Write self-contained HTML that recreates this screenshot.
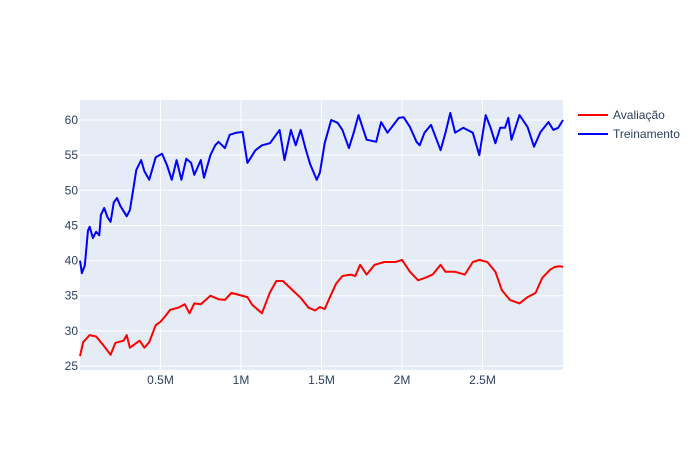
<!DOCTYPE html>
<html><head><meta charset="utf-8"><style>
body{margin:0;background:#fff}
svg text{font-family:"Liberation Sans",sans-serif;font-size:12px;fill:#2a3f5f}
</style></head><body>
<svg id="chart" width="700" height="450">
<rect x="80" y="100" width="483" height="270" fill="#e5ecf6"/>
<g id="grid"></g><g id="series"></g><g id="axes"></g>
<g>
<line x1="578" y1="115" x2="608" y2="115" stroke="#ff0000" stroke-width="2"/>
<text x="613" y="119">Avaliação</text>
<line x1="578" y1="134" x2="608" y2="134" stroke="#0000ff" stroke-width="2"/>
<text x="613" y="138">Treinamento</text>
</g>
</svg>
<script>
const xTicks=[0.5,1,1.5,2,2.5];
const xTickLabels=["0.5M","1M","1.5M","2M","2.5M"];
const yTicks=[25,30,35,40,45,50,55,60];
const blueX=[0,0.012,0.03,0.05,0.06,0.08,0.1,0.12,0.13,0.15,0.17,0.19,0.21,0.23,0.25,0.29,0.31,0.33,0.35,0.38,0.4,0.43,0.47,0.51,0.54,0.57,0.6,0.63,0.66,0.69,0.71,0.75,0.77,0.81,0.84,0.86,0.9,0.93,0.97,1.01,1.04,1.09,1.13,1.18,1.24,1.27,1.31,1.34,1.37,1.4,1.43,1.47,1.49,1.52,1.56,1.6,1.63,1.67,1.7,1.73,1.78,1.84,1.87,1.91,1.98,2.01,2.05,2.09,2.11,2.14,2.18,2.24,2.27,2.3,2.33,2.38,2.44,2.48,2.52,2.55,2.58,2.61,2.64,2.66,2.68,2.73,2.78,2.82,2.86,2.91,2.94,2.97,3.0];
const blueY=[40,38.2,39.3,44.3,44.8,43.2,44.1,43.6,46.5,47.5,46.2,45.5,48.3,48.9,47.8,46.3,47.2,50,52.9,54.3,52.7,51.5,54.7,55.2,53.6,51.5,54.3,51.5,54.5,53.9,52.2,54.3,51.8,55,56.4,56.9,56,57.9,58.2,58.3,53.9,55.7,56.4,56.7,58.6,54.3,58.6,56.4,58.6,56,53.7,51.5,52.5,56.7,60,59.6,58.6,56,58.2,60.7,57.2,56.9,59.7,58.2,60.3,60.4,59,56.9,56.4,58.2,59.3,55.7,58.2,61,58.2,58.9,58.2,55,60.7,58.9,56.7,58.9,58.9,60.3,57.2,60.7,59,56.2,58.3,59.7,58.6,58.9,60];
const redX=[0,0.02,0.06,0.1,0.14,0.19,0.22,0.27,0.29,0.31,0.34,0.37,0.4,0.43,0.47,0.5,0.53,0.56,0.61,0.65,0.68,0.71,0.75,0.81,0.86,0.9,0.94,0.99,1.04,1.07,1.13,1.18,1.22,1.26,1.32,1.37,1.42,1.46,1.49,1.52,1.55,1.59,1.63,1.68,1.71,1.74,1.78,1.83,1.89,1.96,2.0,2.05,2.1,2.14,2.19,2.24,2.27,2.33,2.39,2.44,2.48,2.53,2.58,2.62,2.67,2.73,2.78,2.83,2.87,2.92,2.95,2.98,3.0];
const redY=[26.4,28.4,29.4,29.2,28.1,26.6,28.3,28.6,29.4,27.6,28.1,28.6,27.6,28.4,30.8,31.3,32.1,33,33.3,33.8,32.5,33.9,33.8,35,34.5,34.4,35.4,35.1,34.8,33.7,32.5,35.5,37.1,37.1,35.8,34.7,33.3,32.9,33.4,33.1,34.7,36.7,37.8,38,37.8,39.4,38,39.4,39.8,39.8,40.1,38.4,37.2,37.5,38,39.4,38.4,38.4,38,39.8,40.1,39.8,38.4,35.8,34.4,33.9,34.8,35.4,37.5,38.7,39.1,39.2,39.1];
const NS="http://www.w3.org/2000/svg";
const X0=80,X1=563,Y0=370,Y1=100,xMin=0,xMax=3.0,yMin=24.43,yMax=62.85;
function sx(v){return X0+(v-xMin)/(xMax-xMin)*(X1-X0);}
function sy(v){return Y0-(v-yMin)/(yMax-yMin)*(Y0-Y1);}
const grid=document.getElementById('grid'),axes=document.getElementById('axes'),ser=document.getElementById('series');
function mk(t,a,p){const e=document.createElementNS(NS,t);for(const k in a)e.setAttribute(k,a[k]);p.appendChild(e);return e;}
yTicks.forEach(v=>{
 const l=mk('line',{x1:X0,x2:X1,y1:sy(v),y2:sy(v),stroke:'#fff','stroke-width':1},grid);
 
 
 const t=mk('text',{x:X0-2,y:sy(v)+4,'text-anchor':'end'},axes);t.textContent=v;
 
 
});
xTicks.forEach((v,i)=>{
 const l=mk('line',{x1:sx(v),x2:sx(v),y1:Y1,y2:Y0,stroke:'#fff','stroke-width':1},grid);
 
 
 const t=mk('text',{x:sx(v),y:Y0+14,'text-anchor':'middle'},axes);t.textContent=xTickLabels[i];
 
 
});
function line(xs,ys,c,name){
 const d=xs.map((x,i)=>(i?'L':'M')+sx(x).toFixed(1)+','+sy(ys[i]).toFixed(1)).join('');
 const p=mk('path',{d:d,fill:'none',stroke:c,'stroke-width':2,'stroke-linejoin':'round'},ser);
 
 
}
line(redX,redY,'#ff0000','avaliacao-line');
line(blueX,blueY,'#0000ff','treinamento-line');
</script>
</body></html>
